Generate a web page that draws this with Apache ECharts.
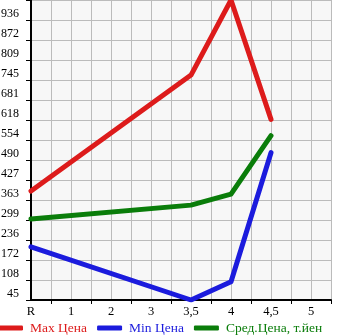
<!DOCTYPE html>
<html><head><meta charset="utf-8">
<script src="https://cdn.jsdelivr.net/npm/echarts@6/dist/echarts.min.js"></script>
<style>html,body{margin:0;padding:0;background:#fff}#c{width:345px;height:335px}</style>
</head><body><div id="c"></div>
<script>
var xLabels = ['R', '1', '2', '3', '3,5', '4', '4,5', '5'];
var maxPrice = [392, null, null, null, 761, 1000, 620, null];
var minPrice = [214, null, null, null, 45, 103, 514, null];
var avgPrice = [303, null, null, null, 347, 382, 568, null];
var seriesNames = ['Max Цена', 'Min Цена', 'Сред.Цена, т.йен'];
var colors = ['#dd1b1b', '#1b1bdd', '#0a7d0a'];
var yMin = 45, yMax = 1000, ySteps = 15;

var cats = [];
xLabels.forEach(function (l) { cats.push(l); cats.push(''); });
function toData(arr) {
  var out = [];
  arr.forEach(function (v, i) { if (v !== null) out.push([i * 2, v]); });
  return out;
}
var FONT = 'Liberation Serif';
var chart = echarts.init(document.getElementById('c'));
chart.setOption({
  animation: false,
  grid: { left: 31, right: 14, top: 0, bottom: 35, show: true, backgroundColor: '#f7f7f7', borderWidth: 0, outerBoundsMode: 'none', containLabel: false },
  legend: {
    bottom: 0, left: -2, padding: 0, itemWidth: 25, itemHeight: 5, itemGap: 10,
    icon: 'roundRect',
    data: seriesNames.map(function (n, i) {
      return { name: n, textStyle: { color: colors[i] } };
    }),
    textStyle: { fontFamily: FONT, fontSize: 13.5, padding: [0, 0, 0, 2] }
  },
  xAxis: {
    type: 'category', data: cats, boundaryGap: false,
    axisLine: { lineStyle: { color: '#000', width: 2 } },
    axisTick: { length: 4, lineStyle: { color: '#000' }, interval: function (i) { return i % 2 === 1; } },
    axisLabel: { interval: function (i) { return i % 2 === 0; }, color: '#000', fontFamily: FONT, fontSize: 12.5, margin: 5 },
    splitLine: { show: true, interval: 0, lineStyle: { color: '#bbbbbb', width: 1 } }
  },
  yAxis: {
    type: 'value', min: yMin, max: yMax, interval: (yMax - yMin) / ySteps,
    axisLine: { show: true, lineStyle: { color: '#000', width: 2 } },
    axisTick: { show: true, length: 5, lineStyle: { color: '#000' } },
    axisLabel: {
      color: '#000', fontFamily: FONT, fontSize: 12, margin: 12,
      verticalAlign: 'bottom', lineHeight: 12,
      formatter: function (v) { return v >= yMax - 1 ? '' : String(Math.floor(v + 1e-6)); }
    },
    splitLine: { show: true, lineStyle: { color: '#bbbbbb', width: 1 } }
  },
  series: [maxPrice, minPrice, avgPrice].map(function (arr, i) {
    return {
      name: seriesNames[i], type: 'line', data: toData(arr), symbol: 'none',
      color: colors[i],
      lineStyle: { width: 5, color: colors[i], cap: 'round', join: 'round' }
    };
  })
});
</script></body></html>
